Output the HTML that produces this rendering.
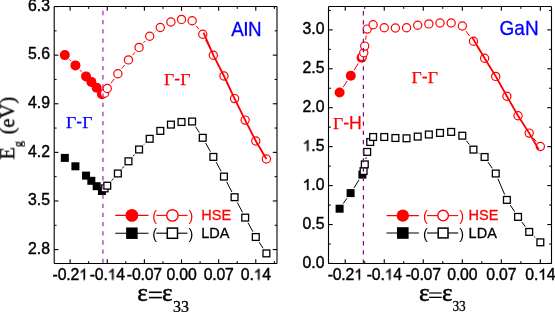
<!DOCTYPE html>
<html><head><meta charset="utf-8"><style>
html,body{margin:0;padding:0;background:#fff;}
body{width:555px;height:312px;overflow:hidden;}
svg{display:block;}
text{will-change:transform;}
text{font-family:"Liberation Sans",sans-serif;}
.tl{font-size:15.8px;fill:#000;stroke:#000;stroke-width:0.4px;}
.xl{letter-spacing:-0.2px;}
.leg{font-size:14.5px;stroke:currentColor;stroke-width:0.3px;}
.par{font-size:14.5px;}
.mat{font-size:20px;fill:#00f;stroke:#00f;stroke-width:0.3px;}
.gg{font-size:17.7px;stroke:currentColor;stroke-width:0.25px;}
.serif{font-family:"Liberation Serif",serif;}
.ax{font-family:"Liberation Serif",serif;font-size:25px;}
.eps{stroke:#000;stroke-width:0.5px;}
.ay{font-family:"Liberation Serif",serif;font-size:20.5px;stroke:#000;stroke-width:0.3px;}
</style></head><body>
<svg width="555" height="312" viewBox="0 0 555 312">
<rect width="555" height="312" fill="#fff"/>
<line x1="70.11" y1="263.45" x2="70.11" y2="259.25" stroke="#000" stroke-width="1.1"/>
<line x1="70.11" y1="6.55" x2="70.11" y2="10.75" stroke="#000" stroke-width="1.1"/>
<line x1="107.25" y1="263.45" x2="107.25" y2="259.25" stroke="#000" stroke-width="1.1"/>
<line x1="107.25" y1="6.55" x2="107.25" y2="10.75" stroke="#000" stroke-width="1.1"/>
<line x1="144.38" y1="263.45" x2="144.38" y2="259.25" stroke="#000" stroke-width="1.1"/>
<line x1="144.38" y1="6.55" x2="144.38" y2="10.75" stroke="#000" stroke-width="1.1"/>
<line x1="181.51" y1="263.45" x2="181.51" y2="259.25" stroke="#000" stroke-width="1.1"/>
<line x1="181.51" y1="6.55" x2="181.51" y2="10.75" stroke="#000" stroke-width="1.1"/>
<line x1="218.65" y1="263.45" x2="218.65" y2="259.25" stroke="#000" stroke-width="1.1"/>
<line x1="218.65" y1="6.55" x2="218.65" y2="10.75" stroke="#000" stroke-width="1.1"/>
<line x1="255.78" y1="263.45" x2="255.78" y2="259.25" stroke="#000" stroke-width="1.1"/>
<line x1="255.78" y1="6.55" x2="255.78" y2="10.75" stroke="#000" stroke-width="1.1"/>
<line x1="88.68" y1="263.45" x2="88.68" y2="261.05" stroke="#000" stroke-width="1"/>
<line x1="88.68" y1="6.55" x2="88.68" y2="8.95" stroke="#000" stroke-width="1"/>
<line x1="125.81" y1="263.45" x2="125.81" y2="261.05" stroke="#000" stroke-width="1"/>
<line x1="125.81" y1="6.55" x2="125.81" y2="8.95" stroke="#000" stroke-width="1"/>
<line x1="162.95" y1="263.45" x2="162.95" y2="261.05" stroke="#000" stroke-width="1"/>
<line x1="162.95" y1="6.55" x2="162.95" y2="8.95" stroke="#000" stroke-width="1"/>
<line x1="200.08" y1="263.45" x2="200.08" y2="261.05" stroke="#000" stroke-width="1"/>
<line x1="200.08" y1="6.55" x2="200.08" y2="8.95" stroke="#000" stroke-width="1"/>
<line x1="237.21" y1="263.45" x2="237.21" y2="261.05" stroke="#000" stroke-width="1"/>
<line x1="237.21" y1="6.55" x2="237.21" y2="8.95" stroke="#000" stroke-width="1"/>
<line x1="274.35" y1="263.45" x2="274.35" y2="261.05" stroke="#000" stroke-width="1"/>
<line x1="274.35" y1="6.55" x2="274.35" y2="8.95" stroke="#000" stroke-width="1"/>
<line x1="54.2" y1="249.56" x2="58.4" y2="249.56" stroke="#000" stroke-width="1.1"/>
<line x1="277" y1="249.56" x2="272.8" y2="249.56" stroke="#000" stroke-width="1.1"/>
<line x1="54.2" y1="200.96" x2="58.4" y2="200.96" stroke="#000" stroke-width="1.1"/>
<line x1="277" y1="200.96" x2="272.8" y2="200.96" stroke="#000" stroke-width="1.1"/>
<line x1="54.2" y1="152.36" x2="58.4" y2="152.36" stroke="#000" stroke-width="1.1"/>
<line x1="277" y1="152.36" x2="272.8" y2="152.36" stroke="#000" stroke-width="1.1"/>
<line x1="54.2" y1="103.76" x2="58.4" y2="103.76" stroke="#000" stroke-width="1.1"/>
<line x1="277" y1="103.76" x2="272.8" y2="103.76" stroke="#000" stroke-width="1.1"/>
<line x1="54.2" y1="55.15" x2="58.4" y2="55.15" stroke="#000" stroke-width="1.1"/>
<line x1="277" y1="55.15" x2="272.8" y2="55.15" stroke="#000" stroke-width="1.1"/>
<line x1="54.2" y1="6.55" x2="58.4" y2="6.55" stroke="#000" stroke-width="1.1"/>
<line x1="277" y1="6.55" x2="272.8" y2="6.55" stroke="#000" stroke-width="1.1"/>
<line x1="54.2" y1="225.26" x2="56.6" y2="225.26" stroke="#000" stroke-width="1"/>
<line x1="277" y1="225.26" x2="274.6" y2="225.26" stroke="#000" stroke-width="1"/>
<line x1="54.2" y1="176.66" x2="56.6" y2="176.66" stroke="#000" stroke-width="1"/>
<line x1="277" y1="176.66" x2="274.6" y2="176.66" stroke="#000" stroke-width="1"/>
<line x1="54.2" y1="128.06" x2="56.6" y2="128.06" stroke="#000" stroke-width="1"/>
<line x1="277" y1="128.06" x2="274.6" y2="128.06" stroke="#000" stroke-width="1"/>
<line x1="54.2" y1="79.45" x2="56.6" y2="79.45" stroke="#000" stroke-width="1"/>
<line x1="277" y1="79.45" x2="274.6" y2="79.45" stroke="#000" stroke-width="1"/>
<line x1="54.2" y1="30.85" x2="56.6" y2="30.85" stroke="#000" stroke-width="1"/>
<line x1="277" y1="30.85" x2="274.6" y2="30.85" stroke="#000" stroke-width="1"/>
<path d="M54.2 6.55H277M54.2 263.45H277M54.2 6.55V263.45" stroke="#000" stroke-width="1.1" fill="none"/>
<line x1="277" y1="6.55" x2="277" y2="263.45" stroke="#000" stroke-width="1.1"/>
<path d="M111.64 180.64L113.46 178.56M122.25 168.44L124.07 166.36M133 156.26L134.54 154.54M144.03 144.51L144.73 143.79M195.49 126.67L199.37 132.63M205.64 143.02L210.44 151.68M216.16 162.13L221.13 171.37M226.65 181.84L231.86 191.96M237.29 202.44L242.45 212.36M248.03 222.83L252.92 231.77M259.13 242.18L263.04 248.22" fill="none" stroke="#000000" stroke-width="1.0"/>
<rect x="60.81" y="153.9" width="8" height="8" fill="#000000"/>
<rect x="71.42" y="162.3" width="8" height="8" fill="#000000"/>
<rect x="82.03" y="171.6" width="8" height="8" fill="#000000"/>
<rect x="87.33" y="176.8" width="8" height="8" fill="#000000"/>
<rect x="92.64" y="182.2" width="8" height="8" fill="#000000"/>
<rect x="97.94" y="187" width="8" height="8" fill="#000000"/>
<rect x="101.2" y="185" width="6.8" height="6.8" fill="#fff" stroke="#000000" stroke-width="1.3"/>
<rect x="103.85" y="182.3" width="6.8" height="6.8" fill="#fff" stroke="#000000" stroke-width="1.3"/>
<rect x="114.46" y="170.1" width="6.8" height="6.8" fill="#fff" stroke="#000000" stroke-width="1.3"/>
<rect x="125.07" y="157.9" width="6.8" height="6.8" fill="#fff" stroke="#000000" stroke-width="1.3"/>
<rect x="135.68" y="146.1" width="6.8" height="6.8" fill="#fff" stroke="#000000" stroke-width="1.3"/>
<rect x="146.29" y="135.4" width="6.8" height="6.8" fill="#fff" stroke="#000000" stroke-width="1.3"/>
<rect x="156.9" y="127.5" width="6.8" height="6.8" fill="#fff" stroke="#000000" stroke-width="1.3"/>
<rect x="167.5" y="121.2" width="6.8" height="6.8" fill="#fff" stroke="#000000" stroke-width="1.3"/>
<rect x="178.11" y="118.6" width="6.8" height="6.8" fill="#fff" stroke="#000000" stroke-width="1.3"/>
<rect x="188.72" y="118.1" width="6.8" height="6.8" fill="#fff" stroke="#000000" stroke-width="1.3"/>
<rect x="199.33" y="134.4" width="6.8" height="6.8" fill="#fff" stroke="#000000" stroke-width="1.3"/>
<rect x="209.94" y="153.5" width="6.8" height="6.8" fill="#fff" stroke="#000000" stroke-width="1.3"/>
<rect x="220.55" y="173.2" width="6.8" height="6.8" fill="#fff" stroke="#000000" stroke-width="1.3"/>
<rect x="231.16" y="193.8" width="6.8" height="6.8" fill="#fff" stroke="#000000" stroke-width="1.3"/>
<rect x="241.77" y="214.2" width="6.8" height="6.8" fill="#fff" stroke="#000000" stroke-width="1.3"/>
<rect x="252.38" y="233.6" width="6.8" height="6.8" fill="#fff" stroke="#000000" stroke-width="1.3"/>
<rect x="262.99" y="250" width="6.8" height="6.8" fill="#fff" stroke="#000000" stroke-width="1.3"/>
<path d="M69.4 59.56L70.83 60.94M79.86 70.01L81.59 71.79M110.98 83.3L114.13 78.9M121.76 68.63L124.57 64.97M132.61 55.02L134.93 52.28M143.48 42.75L145.28 40.85M154.63 32.14L155.35 31.56M196.08 25.73L198.78 29.17M205.62 39.91L210.46 49.49M216.25 60.9L221.04 70.3M226.67 81.79L231.84 92.81M237.39 104.34L242.34 114.36M248.07 125.81L252.88 135.29M259.03 146.51L263.14 153.49" fill="none" stroke="#ff0000" stroke-width="1.0"/>
<circle cx="64.81" cy="55.1" r="5" fill="#ff0000"/>
<circle cx="75.42" cy="65.4" r="5" fill="#ff0000"/>
<circle cx="86.03" cy="76.4" r="5" fill="#ff0000"/>
<circle cx="91.33" cy="81.9" r="5" fill="#ff0000"/>
<circle cx="96.64" cy="87.7" r="5" fill="#ff0000"/>
<circle cx="101.94" cy="94.2" r="5" fill="#ff0000"/>
<circle cx="104.6" cy="93.3" r="4.1" fill="#fff" stroke="#ff0000" stroke-width="1.2"/>
<circle cx="107.25" cy="88.5" r="4.1" fill="#fff" stroke="#ff0000" stroke-width="1.2"/>
<circle cx="117.86" cy="73.7" r="4.1" fill="#fff" stroke="#ff0000" stroke-width="1.2"/>
<circle cx="128.47" cy="59.9" r="4.1" fill="#fff" stroke="#ff0000" stroke-width="1.2"/>
<circle cx="139.08" cy="47.4" r="4.1" fill="#fff" stroke="#ff0000" stroke-width="1.2"/>
<circle cx="149.69" cy="36.2" r="4.1" fill="#fff" stroke="#ff0000" stroke-width="1.2"/>
<circle cx="160.3" cy="27.5" r="4.1" fill="#fff" stroke="#ff0000" stroke-width="1.2"/>
<circle cx="170.9" cy="22" r="4.1" fill="#fff" stroke="#ff0000" stroke-width="1.2"/>
<circle cx="181.51" cy="19.4" r="4.1" fill="#fff" stroke="#ff0000" stroke-width="1.2"/>
<circle cx="192.12" cy="20.7" r="4.1" fill="#fff" stroke="#ff0000" stroke-width="1.2"/>
<circle cx="202.73" cy="34.2" r="4.1" fill="#fff" stroke="#ff0000" stroke-width="1.2"/>
<circle cx="213.34" cy="55.2" r="4.1" fill="#fff" stroke="#ff0000" stroke-width="1.2"/>
<circle cx="223.95" cy="76" r="4.1" fill="#fff" stroke="#ff0000" stroke-width="1.2"/>
<circle cx="234.56" cy="98.6" r="4.1" fill="#fff" stroke="#ff0000" stroke-width="1.2"/>
<circle cx="245.17" cy="120.1" r="4.1" fill="#fff" stroke="#ff0000" stroke-width="1.2"/>
<circle cx="255.78" cy="141" r="4.1" fill="#fff" stroke="#ff0000" stroke-width="1.2"/>
<circle cx="266.39" cy="159" r="4.1" fill="#fff" stroke="#ff0000" stroke-width="1.2"/>
<polyline points="203.5,32.6 213.34,55.2 223.95,76 234.56,98.6 245.17,120.1 255.78,141 266.39,159" fill="none" stroke="#ff0000" stroke-width="1.8"/>
<line x1="102.9" y1="7.55" x2="102.9" y2="263.45" stroke="rgb(159,49,181)" stroke-opacity="0.68" stroke-width="1.9" stroke-dasharray="4.3 4.88" stroke-dashoffset="-3.3"/>
<text x="28.04" y="253.86" class="tl">2.8</text>
<text x="28.04" y="205.26" class="tl">3.5</text>
<text x="28.04" y="156.66" class="tl">4.2</text>
<text x="28.04" y="108.06" class="tl">4.9</text>
<text x="28.04" y="59.45" class="tl">5.6</text>
<text x="28.04" y="10.85" class="tl">6.3</text>
<text x="52.61" y="279.7" class="tl xl">-0.2 </text>
<path d="M763 0L590 0L590 1100Q527 1040 428 985Q330 930 223 896L223 1062Q362 1122 470 1216Q578 1310 640 1409L763 1409Z" transform="translate(79.03 279.70) scale(0.00771 -0.00771)" fill="#000" stroke="#000" stroke-width="51.8"/>
<text x="89.74" y="279.7" class="tl xl">-0. 4</text>
<path d="M763 0L590 0L590 1100Q527 1040 428 985Q330 930 223 896L223 1062Q362 1122 470 1216Q578 1310 640 1409L763 1409Z" transform="translate(107.58 279.70) scale(0.00771 -0.00771)" fill="#000" stroke="#000" stroke-width="51.8"/>
<text x="126.87" y="279.7" class="tl xl">-0.07</text>
<text x="166.54" y="279.7" class="tl xl">0.00</text>
<text x="203.67" y="279.7" class="tl xl">0.07</text>
<text x="240.81" y="279.7" class="tl xl">0. 4</text>
<path d="M763 0L590 0L590 1100Q527 1040 428 985Q330 930 223 896L223 1062Q362 1122 470 1216Q578 1310 640 1409L763 1409Z" transform="translate(253.58 279.70) scale(0.00771 -0.00771)" fill="#000" stroke="#000" stroke-width="51.8"/>
<line x1="345.23" y1="263.45" x2="345.23" y2="259.25" stroke="#000" stroke-width="1.1"/>
<line x1="345.23" y1="6.5" x2="345.23" y2="10.7" stroke="#000" stroke-width="1.1"/>
<line x1="384.25" y1="263.45" x2="384.25" y2="259.25" stroke="#000" stroke-width="1.1"/>
<line x1="384.25" y1="6.5" x2="384.25" y2="10.7" stroke="#000" stroke-width="1.1"/>
<line x1="423.27" y1="263.45" x2="423.27" y2="259.25" stroke="#000" stroke-width="1.1"/>
<line x1="423.27" y1="6.5" x2="423.27" y2="10.7" stroke="#000" stroke-width="1.1"/>
<line x1="462.3" y1="263.45" x2="462.3" y2="259.25" stroke="#000" stroke-width="1.1"/>
<line x1="462.3" y1="6.5" x2="462.3" y2="10.7" stroke="#000" stroke-width="1.1"/>
<line x1="501.32" y1="263.45" x2="501.32" y2="259.25" stroke="#000" stroke-width="1.1"/>
<line x1="501.32" y1="6.5" x2="501.32" y2="10.7" stroke="#000" stroke-width="1.1"/>
<line x1="540.35" y1="263.45" x2="540.35" y2="259.25" stroke="#000" stroke-width="1.1"/>
<line x1="540.35" y1="6.5" x2="540.35" y2="10.7" stroke="#000" stroke-width="1.1"/>
<line x1="364.74" y1="263.45" x2="364.74" y2="261.05" stroke="#000" stroke-width="1"/>
<line x1="364.74" y1="6.5" x2="364.74" y2="8.9" stroke="#000" stroke-width="1"/>
<line x1="403.76" y1="263.45" x2="403.76" y2="261.05" stroke="#000" stroke-width="1"/>
<line x1="403.76" y1="6.5" x2="403.76" y2="8.9" stroke="#000" stroke-width="1"/>
<line x1="442.79" y1="263.45" x2="442.79" y2="261.05" stroke="#000" stroke-width="1"/>
<line x1="442.79" y1="6.5" x2="442.79" y2="8.9" stroke="#000" stroke-width="1"/>
<line x1="481.81" y1="263.45" x2="481.81" y2="261.05" stroke="#000" stroke-width="1"/>
<line x1="481.81" y1="6.5" x2="481.81" y2="8.9" stroke="#000" stroke-width="1"/>
<line x1="520.84" y1="263.45" x2="520.84" y2="261.05" stroke="#000" stroke-width="1"/>
<line x1="520.84" y1="6.5" x2="520.84" y2="8.9" stroke="#000" stroke-width="1"/>
<line x1="328.5" y1="263.45" x2="332.7" y2="263.45" stroke="#000" stroke-width="1.1"/>
<line x1="551.5" y1="263.45" x2="547.3" y2="263.45" stroke="#000" stroke-width="1.1"/>
<line x1="328.5" y1="224.52" x2="332.7" y2="224.52" stroke="#000" stroke-width="1.1"/>
<line x1="551.5" y1="224.52" x2="547.3" y2="224.52" stroke="#000" stroke-width="1.1"/>
<line x1="328.5" y1="185.59" x2="332.7" y2="185.59" stroke="#000" stroke-width="1.1"/>
<line x1="551.5" y1="185.59" x2="547.3" y2="185.59" stroke="#000" stroke-width="1.1"/>
<line x1="328.5" y1="146.65" x2="332.7" y2="146.65" stroke="#000" stroke-width="1.1"/>
<line x1="551.5" y1="146.65" x2="547.3" y2="146.65" stroke="#000" stroke-width="1.1"/>
<line x1="328.5" y1="107.72" x2="332.7" y2="107.72" stroke="#000" stroke-width="1.1"/>
<line x1="551.5" y1="107.72" x2="547.3" y2="107.72" stroke="#000" stroke-width="1.1"/>
<line x1="328.5" y1="68.79" x2="332.7" y2="68.79" stroke="#000" stroke-width="1.1"/>
<line x1="551.5" y1="68.79" x2="547.3" y2="68.79" stroke="#000" stroke-width="1.1"/>
<line x1="328.5" y1="29.86" x2="332.7" y2="29.86" stroke="#000" stroke-width="1.1"/>
<line x1="551.5" y1="29.86" x2="547.3" y2="29.86" stroke="#000" stroke-width="1.1"/>
<line x1="328.5" y1="243.98" x2="330.9" y2="243.98" stroke="#000" stroke-width="1"/>
<line x1="551.5" y1="243.98" x2="549.1" y2="243.98" stroke="#000" stroke-width="1"/>
<line x1="328.5" y1="205.05" x2="330.9" y2="205.05" stroke="#000" stroke-width="1"/>
<line x1="551.5" y1="205.05" x2="549.1" y2="205.05" stroke="#000" stroke-width="1"/>
<line x1="328.5" y1="166.12" x2="330.9" y2="166.12" stroke="#000" stroke-width="1"/>
<line x1="551.5" y1="166.12" x2="549.1" y2="166.12" stroke="#000" stroke-width="1"/>
<line x1="328.5" y1="127.19" x2="330.9" y2="127.19" stroke="#000" stroke-width="1"/>
<line x1="551.5" y1="127.19" x2="549.1" y2="127.19" stroke="#000" stroke-width="1"/>
<line x1="328.5" y1="88.26" x2="330.9" y2="88.26" stroke="#000" stroke-width="1"/>
<line x1="551.5" y1="88.26" x2="549.1" y2="88.26" stroke="#000" stroke-width="1"/>
<line x1="328.5" y1="49.32" x2="330.9" y2="49.32" stroke="#000" stroke-width="1"/>
<line x1="551.5" y1="49.32" x2="549.1" y2="49.32" stroke="#000" stroke-width="1"/>
<line x1="328.5" y1="10.39" x2="330.9" y2="10.39" stroke="#000" stroke-width="1"/>
<line x1="551.5" y1="10.39" x2="549.1" y2="10.39" stroke="#000" stroke-width="1"/>
<path d="M328.5 6.5H551.5M328.5 263.45H551.5M328.5 6.5V263.45" stroke="#000" stroke-width="1.1" fill="none"/>
<line x1="551.5" y1="6.5" x2="551.5" y2="263.45" stroke="#000" stroke-width="1.1"/>
<path d="M343.23 203.56L346.97 198.24M353.9 187.92L359.1 179.78M365.83 159.03L366.17 157.27M466.38 140.79L469.37 144.51M478.62 153.03L479.43 153.57M488.09 162.16L492.26 168.34M497.98 178.79L504.67 194.61M510.29 205.07L514.66 211.73M521.86 222.02L525.39 226.78M534.22 236.59L535.33 237.61" fill="none" stroke="#000000" stroke-width="1.0"/>
<rect x="335.6" y="204.7" width="8" height="8" fill="#000000"/>
<rect x="346.6" y="189.1" width="8" height="8" fill="#000000"/>
<rect x="358.4" y="170.6" width="8" height="8" fill="#000000"/>
<rect x="360.2" y="167.6" width="6.8" height="6.8" fill="#fff" stroke="#000000" stroke-width="1.3"/>
<rect x="361.4" y="161" width="6.8" height="6.8" fill="#fff" stroke="#000000" stroke-width="1.3"/>
<rect x="363.8" y="148.5" width="6.8" height="6.8" fill="#fff" stroke="#000000" stroke-width="1.3"/>
<rect x="366.8" y="138.6" width="6.8" height="6.8" fill="#fff" stroke="#000000" stroke-width="1.3"/>
<rect x="369.7" y="133.6" width="6.8" height="6.8" fill="#fff" stroke="#000000" stroke-width="1.3"/>
<rect x="380.85" y="133.6" width="6.8" height="6.8" fill="#fff" stroke="#000000" stroke-width="1.3"/>
<rect x="392" y="134.6" width="6.8" height="6.8" fill="#fff" stroke="#000000" stroke-width="1.3"/>
<rect x="403.15" y="134.9" width="6.8" height="6.8" fill="#fff" stroke="#000000" stroke-width="1.3"/>
<rect x="414.3" y="133.2" width="6.8" height="6.8" fill="#fff" stroke="#000000" stroke-width="1.3"/>
<rect x="425.45" y="131.1" width="6.8" height="6.8" fill="#fff" stroke="#000000" stroke-width="1.3"/>
<rect x="436.6" y="129.5" width="6.8" height="6.8" fill="#fff" stroke="#000000" stroke-width="1.3"/>
<rect x="447.75" y="128.5" width="6.8" height="6.8" fill="#fff" stroke="#000000" stroke-width="1.3"/>
<rect x="458.9" y="132.3" width="6.8" height="6.8" fill="#fff" stroke="#000000" stroke-width="1.3"/>
<rect x="470.05" y="146.2" width="6.8" height="6.8" fill="#fff" stroke="#000000" stroke-width="1.3"/>
<rect x="481.2" y="153.6" width="6.8" height="6.8" fill="#fff" stroke="#000000" stroke-width="1.3"/>
<rect x="492.35" y="170.1" width="6.8" height="6.8" fill="#fff" stroke="#000000" stroke-width="1.3"/>
<rect x="503.5" y="196.5" width="6.8" height="6.8" fill="#fff" stroke="#000000" stroke-width="1.3"/>
<rect x="514.65" y="213.5" width="6.8" height="6.8" fill="#fff" stroke="#000000" stroke-width="1.3"/>
<rect x="525.8" y="228.5" width="6.8" height="6.8" fill="#fff" stroke="#000000" stroke-width="1.3"/>
<rect x="536.95" y="238.9" width="6.8" height="6.8" fill="#fff" stroke="#000000" stroke-width="1.3"/>
<path d="M343.15 87.17L347.25 81.03M354.11 70.22L358.29 63.28M365.63 39.77L366.27 35.43M466.07 31.17L469.68 36.13M476.96 46.65L481.09 52.95M487.96 63.75L492.39 70.95M498.88 81.98L503.77 90.72M510.08 101.86L514.87 110.24M521.52 121.18L525.73 127.72M533.29 138.02L536.26 141.58" fill="none" stroke="#ff0000" stroke-width="1.0"/>
<circle cx="339.6" cy="92.5" r="5" fill="#ff0000"/>
<circle cx="350.8" cy="75.7" r="5" fill="#ff0000"/>
<circle cx="361.6" cy="57.8" r="5" fill="#ff0000"/>
<circle cx="362.3" cy="56.6" r="4.1" fill="#fff" stroke="#ff0000" stroke-width="1.2"/>
<circle cx="363.75" cy="52.8" r="4.1" fill="#fff" stroke="#ff0000" stroke-width="1.2"/>
<circle cx="364.7" cy="46.1" r="4.1" fill="#fff" stroke="#ff0000" stroke-width="1.2"/>
<circle cx="367.2" cy="29.1" r="4.1" fill="#fff" stroke="#ff0000" stroke-width="1.2"/>
<circle cx="373.1" cy="24.8" r="4.1" fill="#fff" stroke="#ff0000" stroke-width="1.2"/>
<circle cx="384.25" cy="27.7" r="4.1" fill="#fff" stroke="#ff0000" stroke-width="1.2"/>
<circle cx="395.4" cy="28" r="4.1" fill="#fff" stroke="#ff0000" stroke-width="1.2"/>
<circle cx="406.55" cy="27.7" r="4.1" fill="#fff" stroke="#ff0000" stroke-width="1.2"/>
<circle cx="417.7" cy="25.3" r="4.1" fill="#fff" stroke="#ff0000" stroke-width="1.2"/>
<circle cx="428.85" cy="23.9" r="4.1" fill="#fff" stroke="#ff0000" stroke-width="1.2"/>
<circle cx="440" cy="23" r="4.1" fill="#fff" stroke="#ff0000" stroke-width="1.2"/>
<circle cx="451.15" cy="23" r="4.1" fill="#fff" stroke="#ff0000" stroke-width="1.2"/>
<circle cx="462.3" cy="26" r="4.1" fill="#fff" stroke="#ff0000" stroke-width="1.2"/>
<circle cx="473.45" cy="41.3" r="4.1" fill="#fff" stroke="#ff0000" stroke-width="1.2"/>
<circle cx="484.6" cy="58.3" r="4.1" fill="#fff" stroke="#ff0000" stroke-width="1.2"/>
<circle cx="495.75" cy="76.4" r="4.1" fill="#fff" stroke="#ff0000" stroke-width="1.2"/>
<circle cx="506.9" cy="96.3" r="4.1" fill="#fff" stroke="#ff0000" stroke-width="1.2"/>
<circle cx="518.05" cy="115.8" r="4.1" fill="#fff" stroke="#ff0000" stroke-width="1.2"/>
<circle cx="529.2" cy="133.1" r="4.1" fill="#fff" stroke="#ff0000" stroke-width="1.2"/>
<circle cx="540.35" cy="146.5" r="4.1" fill="#fff" stroke="#ff0000" stroke-width="1.2"/>
<polyline points="472.4,37.6 484.6,58.3 495.75,76.4 506.9,96.3 518.05,115.8 529.2,133.1 538.8,149.6" fill="none" stroke="#ff0000" stroke-width="1.8"/>
<line x1="363.4" y1="7.5" x2="363.4" y2="263.45" stroke="#800080" stroke-width="1.2" stroke-dasharray="4.3 4.9" stroke-dashoffset="-3.6"/>
<text x="302.54" y="267.75" class="tl">0.0</text>
<text x="302.54" y="228.82" class="tl">0.5</text>
<text x="302.54" y="189.89" class="tl"> .0</text>
<path d="M763 0L590 0L590 1100Q527 1040 428 985Q330 930 223 896L223 1062Q362 1122 470 1216Q578 1310 640 1409L763 1409Z" transform="translate(302.54 189.89) scale(0.00771 -0.00771)" fill="#000" stroke="#000" stroke-width="51.8"/>
<text x="302.54" y="150.95" class="tl"> .5</text>
<path d="M763 0L590 0L590 1100Q527 1040 428 985Q330 930 223 896L223 1062Q362 1122 470 1216Q578 1310 640 1409L763 1409Z" transform="translate(302.54 150.95) scale(0.00771 -0.00771)" fill="#000" stroke="#000" stroke-width="51.8"/>
<text x="302.54" y="112.02" class="tl">2.0</text>
<text x="302.54" y="73.09" class="tl">2.5</text>
<text x="302.54" y="34.16" class="tl">3.0</text>
<text x="327.72" y="279.7" class="tl xl">-0.2 </text>
<path d="M763 0L590 0L590 1100Q527 1040 428 985Q330 930 223 896L223 1062Q362 1122 470 1216Q578 1310 640 1409L763 1409Z" transform="translate(354.14 279.70) scale(0.00771 -0.00771)" fill="#000" stroke="#000" stroke-width="51.8"/>
<text x="366.74" y="279.7" class="tl xl">-0. 4</text>
<path d="M763 0L590 0L590 1100Q527 1040 428 985Q330 930 223 896L223 1062Q362 1122 470 1216Q578 1310 640 1409L763 1409Z" transform="translate(384.58 279.70) scale(0.00771 -0.00771)" fill="#000" stroke="#000" stroke-width="51.8"/>
<text x="405.77" y="279.7" class="tl xl">-0.07</text>
<text x="447.32" y="279.7" class="tl xl">0.00</text>
<text x="486.35" y="279.7" class="tl xl">0.07</text>
<text x="525.37" y="279.7" class="tl xl">0. 4</text>
<path d="M763 0L590 0L590 1100Q527 1040 428 985Q330 930 223 896L223 1062Q362 1122 470 1216Q578 1310 640 1409L763 1409Z" transform="translate(538.15 279.70) scale(0.00771 -0.00771)" fill="#000" stroke="#000" stroke-width="51.8"/>
<text transform="translate(231.2 35.7) scale(0.94 1)" class="mat">A</text><rect x="244.9" y="21.9" width="2" height="13.8" fill="#00f"/><text transform="translate(247.9 35.7) scale(0.94 1)" class="mat">N</text>
<text transform="translate(499.6 35.3) scale(0.95 1)" class="mat">GaN</text>
<text x="164" y="84.8" class="gg" fill="#f00" color="#f00"><tspan class="serif">Γ</tspan>-<tspan class="serif">Γ</tspan></text>
<text x="66" y="128.1" class="gg" fill="#00f" color="#00f"><tspan class="serif">Γ</tspan>-<tspan class="serif">Γ</tspan></text>
<text x="411.5" y="83.3" class="gg" fill="#f00" color="#f00"><tspan class="serif">Γ</tspan>-<tspan class="serif">Γ</tspan></text>
<text x="333" y="128.7" class="gg" fill="#f00" color="#f00"><tspan class="serif">Γ</tspan>-H</text>
<line x1="115.2" y1="215.4" x2="148.5" y2="215.4" stroke="#f00" stroke-width="1.1"/>
<circle cx="131.9" cy="215.4" r="6.4" fill="#ff0000"/>
<line x1="115.2" y1="233.2" x2="148.5" y2="233.2" stroke="#000" stroke-width="1.1"/>
<rect x="126.15" y="227.45" width="11.5" height="11.5" fill="#000000"/>
<line x1="156.2" y1="215.4" x2="187.5" y2="215.4" stroke="#f00" stroke-width="1.1"/>
<circle cx="172.4" cy="215.4" r="5.7" fill="#fff" stroke="#ff0000" stroke-width="1.4"/>
<line x1="156.2" y1="233.2" x2="187.5" y2="233.2" stroke="#000" stroke-width="1.1"/>
<rect x="167.3" y="228.1" width="10.2" height="10.2" fill="#fff" stroke="#000000" stroke-width="1.5"/>
<text x="152.2" y="221.0" class="par" fill="#f00">(</text><text x="188.5" y="221.0" class="par" fill="#f00">)</text>
<text x="152.2" y="238.79999999999998" class="par">(</text><text x="188.5" y="238.79999999999998" class="par">)</text>
<text x="201.3" y="220.20000000000002" class="leg" fill="#f00" color="#f00">HSE</text>
<text x="201.3" y="238.0" class="leg">LDA</text>
<line x1="386.5" y1="215.6" x2="418.9" y2="215.6" stroke="#f00" stroke-width="1.1"/>
<circle cx="402.8" cy="215.6" r="6.2" fill="#ff0000"/>
<line x1="386.5" y1="233.0" x2="418.9" y2="233.0" stroke="#000" stroke-width="1.1"/>
<rect x="397" y="227.2" width="11.6" height="11.6" fill="#000000"/>
<line x1="427.0" y1="215.6" x2="458.2" y2="215.6" stroke="#f00" stroke-width="1.1"/>
<circle cx="443.1" cy="215.6" r="5.3" fill="#fff" stroke="#ff0000" stroke-width="1.4"/>
<line x1="427.0" y1="233.0" x2="458.2" y2="233.0" stroke="#000" stroke-width="1.1"/>
<rect x="438.2" y="228.1" width="9.8" height="9.8" fill="#fff" stroke="#000000" stroke-width="1.5"/>
<text x="423.0" y="221.2" class="par" fill="#f00">(</text><text x="459.2" y="221.2" class="par" fill="#f00">)</text>
<text x="423.0" y="238.6" class="par">(</text><text x="459.2" y="238.6" class="par">)</text>
<text x="468.6" y="220.4" class="leg" fill="#f00" color="#f00">HSE</text>
<text x="468.6" y="237.8" class="leg">LDA</text>
<text x="137.3" y="301.1" class="ax eps">ε</text><text x="161.9" y="301.1" class="ax eps">ε</text>
<rect x="148.9" y="291.5" width="13" height="1.6" fill="#000"/><rect x="148.9" y="296.8" width="13" height="1.6" fill="#000"/>
<text x="173.1" y="311.7" class="ax" style="font-size:16px;stroke:#000;stroke-width:0.3px">33</text>
<text x="418.9" y="301.1" class="ax eps">ε</text><text x="442.0" y="301.1" class="ax eps">ε</text>
<rect x="429.1" y="292.4" width="12.6" height="1.2" fill="#000"/><rect x="429.1" y="296.7" width="12.6" height="1.3" fill="#000"/>
<text transform="translate(452.4 310.9) scale(0.9 1)" class="ax" style="font-size:14.8px;stroke:#000;stroke-width:0.3px">33</text>
<text transform="translate(14.2 159.6) rotate(-90)" class="ay">E<tspan font-size="12" dy="7.5">g</tspan><tspan dy="-7.5" dx="1.5"> (eV)</tspan></text>
</svg>
</body></html>
